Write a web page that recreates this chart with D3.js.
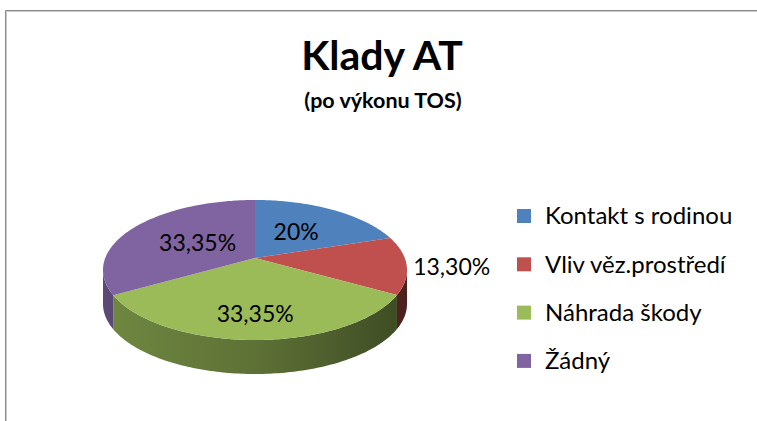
<!DOCTYPE html>
<html>
<head>
<meta charset="utf-8">
<script src="https://cdn.jsdelivr.net/npm/d3@7"></script>
<style>
  html, body { margin: 0; padding: 0; background: #fff; }
  svg { display: block; }
  text { font-family: Lato, "Open Sans", sans-serif; fill: #000; }
</style>
</head>
<body>
<svg id="chart" width="757" height="421"></svg>
<script>
const categories = ['Kontakt s rodinou', 'Vliv věz.prostředí', 'Náhrada škody', 'Žádný'];
const values = [20, 13.30, 33.35, 33.35];
const valueLabels = ['20%', '13,30%', '33,35%', '33,35%'];
const colors = ['#4F81BD', '#C0504D', '#9BBB59', '#8064A2'];

const svg = d3.select('#chart');
const width = +svg.attr('width');
const height = +svg.attr('height');

// frame
svg.append('path')
  .attr('d', `M5.5,${height} V10.5 H${width}`)
  .attr('fill', 'none').attr('stroke', '#8c8c8c').attr('stroke-width', 1);
svg.append('path')
  .attr('d', `M6.5,${height} V11.5 H${width}`)
  .attr('fill', 'none').attr('stroke', '#c8c8c8').attr('stroke-width', 1);

// title
svg.append('text')
  .attr('x', 382).attr('y', 70)
  .attr('text-anchor', 'middle')
  .style('font-size', '41px').style('font-weight', 'bold')
  .text('Klady AT');
svg.append('text')
  .attr('x', 383).attr('y', 108)
  .attr('text-anchor', 'middle')
  .style('font-size', '21.5px').style('font-weight', 'bold')
  .text('(po výkonu TOS)');

// 3d pie geometry (perspective tilt)
const apex = { x: 255, y: 258 };
const k = 0.1714;
const s = 149.75;
const t = 67.94;
const depth = 34;
const step = Math.PI / 180;

function project(theta, r = 1, dy = 0) {
  const u = r * Math.sin(theta);
  const v = -r * Math.cos(theta);
  const w = 1 - k * v;
  return [apex.x + (s * u) / w, apex.y + (t * v) / w + dy];
}

function arcPoints(a0, a1, dy) {
  const pts = [];
  const n = Math.max(2, Math.ceil((a1 - a0) / step));
  for (let i = 0; i <= n; i += 1) {
    pts.push(project(a0 + ((a1 - a0) * i) / n, 1, dy));
  }
  return pts;
}

const pie = d3.pie().sort(null).value(d => d.value);
const slices = pie(categories.map((c, i) => ({ name: c, value: values[i], color: colors[i], label: valueLabels[i] })));

const defs = svg.append('defs');
slices.forEach((d, i) => {
  const base = d3.color(d.data.color);
  const grad = defs.append('linearGradient')
    .attr('id', `side${i}`)
    .attr('gradientUnits', 'userSpaceOnUse')
    .attr('x1', apex.x - s * 1.02).attr('x2', apex.x + s * 1.02)
    .attr('y1', 0).attr('y2', 0);
  grad.append('stop').attr('offset', 0).attr('stop-color', base.darker(0.9));
  grad.append('stop').attr('offset', 0.5).attr('stop-color', base.darker(1.4));
  grad.append('stop').attr('offset', 1).attr('stop-color', base.darker(2.6));
});

const line = d3.line();
const visA = Math.acos(-k);
const visB = 2 * Math.PI - visA;

// sides
const sides = svg.append('g');
slices.forEach((d, i) => {
  const a0 = Math.max(d.startAngle, visA);
  const a1 = Math.min(d.endAngle, visB);
  if (a1 <= a0) return;
  const top = arcPoints(a0, a1, 0);
  const bottom = arcPoints(a0, a1, depth).reverse();
  sides.append('path')
    .attr('d', line(top.concat(bottom)) + 'Z')
    .attr('fill', `url(#side${i})`);
});

// top faces
svg.append('g')
  .selectAll('path')
  .data(slices)
  .join('path')
  .attr('d', d => line([[apex.x, apex.y]].concat(arcPoints(d.startAngle, d.endAngle, 0))) + 'Z')
  .attr('fill', d => d.data.color);

// value labels
const labelR = [0.5, 1.29, 0.72, 0.46];
svg.append('g')
  .selectAll('text')
  .data(slices)
  .join('text')
  .attr('transform', (d, i) => {
    const p = project((d.startAngle + d.endAngle) / 2, labelR[i]);
    return `translate(${p[0]},${p[1]})`;
  })
  .attr('text-anchor', 'middle')
  .attr('dy', '0.35em')
  .style('font-size', '23px')
  .text(d => d.data.label);

// legend
const legend = svg.append('g')
  .selectAll('g')
  .data(categories)
  .join('g')
  .attr('transform', (d, i) => `translate(517,${216 + i * 48.3})`);
legend.append('rect')
  .attr('x', 0).attr('y', -7)
  .attr('width', 14).attr('height', 14)
  .attr('fill', (d, i) => colors[i]);
legend.append('text')
  .attr('x', 28).attr('dy', '0.35em')
  .style('font-size', '24px')
  .text(d => d);
</script>
</body>
</html>
